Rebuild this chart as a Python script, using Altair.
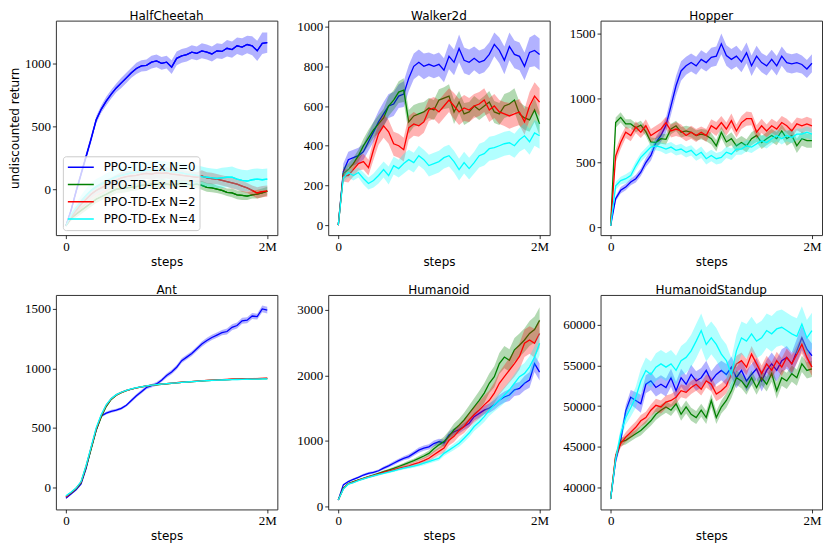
import altair as alt
import pandas as pd

STEPS_M = [round(i * 0.05, 2) for i in range(41)]
SERIES = ["PPO-TD-Ex N=0", "PPO-TD-Ex N=1", "PPO-TD-Ex N=2", "PPO-TD-Ex N=4"]
COLORS = ["#0000ff", "#008000", "#ff0000", "#00ffff"]
ENVS = ["HalfCheetah", "Walker2d", "Hopper", "Ant", "Humanoid", "HumanoidStandup"]

# ---------------- HalfCheetah ----------------
HC_N0 = [-290, -170, -20, 120, 260, 400, 550, 635, 700, 755, 805, 845, 885, 925, 960, 980, 985, 1010, 1020, 1000, 1010, 970, 1040, 1060, 1070, 1090, 1080, 1100, 1090, 1075, 1100, 1095, 1120, 1110, 1140, 1130, 1150, 1140, 1100, 1160, 1165]
HC_N1 = [-290, -230, -200, -170, -140, -110, -80, -60, -40, -20, 0, 5, 10, 15, 20, 30, 35, 40, 40, 45, 40, 35, 40, 45, 40, 35, 40, 30, 15, 10, 0, -10, -25, -30, -45, -50, -55, -45, -40, -30, -15]
HC_N2 = [-290, -220, -170, -120, -80, -40, -10, 10, 30, 50, 70, 90, 100, 105, 110, 120, 125, 120, 130, 125, 130, 120, 115, 110, 105, 100, 95, 105, 90, 85, 80, 70, 60, 50, 40, 25, 10, -10, -30, -20, -15]
HC_N4 = [-290, -210, -150, -100, -50, -10, 20, 40, 60, 80, 100, 110, 120, 130, 135, 140, 150, 150, 155, 150, 145, 140, 135, 130, 120, 115, 110, 100, 95, 90, 85, 90, 95, 95, 80, 70, 65, 75, 80, 75, 80]
HC_N0_SD = [10, 25, 30, 30, 30, 30, 30, 30, 35, 35, 35, 40, 40, 40, 45, 45, 45, 50, 50, 50, 50, 55, 55, 55, 55, 55, 55, 60, 60, 60, 60, 60, 65, 65, 65, 70, 70, 75, 80, 85, 80]
HC_N1_SD = [10, 20, 25, 30, 30, 30, 30, 30, 30, 35, 35, 35, 35, 30, 30, 30, 30, 35, 35, 35, 35, 35, 30, 30, 30, 30, 30, 35, 35, 35, 30, 30, 30, 35, 35, 35, 30, 30, 35, 35, 35]
HC_N2_SD = [10, 25, 35, 40, 40, 40, 40, 45, 45, 45, 45, 45, 45, 40, 40, 40, 45, 45, 45, 45, 45, 45, 45, 45, 40, 40, 40, 45, 45, 45, 40, 40, 40, 45, 45, 45, 40, 40, 45, 45, 45]
HC_N4_SD = [10, 30, 40, 50, 55, 60, 60, 60, 65, 65, 65, 65, 70, 70, 70, 70, 70, 75, 75, 75, 75, 75, 75, 80, 80, 80, 80, 80, 75, 75, 75, 80, 80, 85, 85, 85, 85, 85, 85, 85, 85]

# ---------------- Walker2d ----------------
W_N0 = [0, 270, 330, 340, 350, 370, 420, 470, 520, 560, 600, 610, 650, 660, 740, 800, 820, 800, 810, 800, 810, 780, 850, 820, 890, 830, 820, 840, 820, 830, 860, 910, 880, 830, 900, 860, 850, 800, 870, 880, 860]
W_N1 = [0, 260, 280, 310, 350, 400, 440, 480, 510, 540, 600, 630, 670, 680, 520, 550, 560, 570, 590, 580, 630, 640, 650, 570, 620, 560, 570, 600, 580, 600, 620, 570, 560, 600, 610, 630, 560, 540, 530, 580, 510]
W_N2 = [0, 250, 250, 280, 310, 320, 290, 380, 460, 500, 470, 410, 400, 380, 490, 510, 500, 520, 580, 590, 570, 600, 630, 600, 570, 590, 580, 600, 610, 630, 580, 600, 570, 560, 550, 560, 570, 520, 600, 650, 620]
W_N4 = [0, 240, 265, 250, 265, 235, 210, 225, 250, 280, 250, 300, 285, 310, 330, 315, 350, 330, 300, 310, 320, 340, 350, 320, 280, 315, 285, 315, 350, 360, 385, 390, 400, 410, 415, 400, 430, 450, 420, 465, 450]
W_N0_SD = [5, 40, 40, 40, 40, 40, 45, 50, 55, 60, 60, 60, 60, 65, 65, 65, 65, 65, 60, 60, 60, 60, 65, 65, 70, 65, 65, 60, 60, 60, 60, 60, 65, 70, 70, 70, 70, 70, 75, 80, 80]
W_N1_SD = [5, 30, 30, 30, 30, 35, 40, 40, 45, 45, 50, 50, 55, 60, 60, 55, 55, 50, 50, 50, 55, 55, 60, 60, 55, 55, 50, 50, 50, 50, 55, 55, 55, 60, 60, 60, 60, 60, 60, 60, 60]
W_N2_SD = [5, 30, 35, 35, 35, 40, 40, 50, 55, 60, 60, 60, 60, 60, 60, 60, 55, 55, 55, 55, 60, 60, 60, 65, 65, 65, 60, 60, 60, 60, 60, 60, 60, 60, 65, 65, 65, 65, 70, 70, 70]
W_N4_SD = [5, 25, 25, 25, 25, 30, 30, 35, 40, 40, 45, 45, 45, 50, 50, 50, 50, 50, 55, 55, 55, 55, 55, 55, 55, 55, 55, 55, 60, 60, 60, 60, 60, 60, 60, 60, 60, 65, 65, 65, 65]

# ---------------- Hopper ----------------
H_N0 = [10, 220, 285, 310, 350, 375, 425, 500, 555, 655, 710, 790, 940, 1095, 1210, 1250, 1275, 1250, 1300, 1275, 1315, 1325, 1420, 1330, 1300, 1325, 1280, 1350, 1250, 1325, 1275, 1250, 1300, 1250, 1325, 1275, 1265, 1275, 1260, 1225, 1270]
H_N1 = [10, 810, 850, 800, 800, 770, 790, 740, 660, 655, 685, 680, 760, 785, 735, 745, 735, 710, 720, 710, 685, 630, 735, 660, 685, 630, 655, 630, 685, 710, 655, 685, 710, 685, 745, 685, 710, 630, 685, 670, 670]
H_N2 = [10, 550, 655, 735, 710, 775, 735, 785, 710, 735, 760, 810, 745, 760, 745, 710, 735, 710, 735, 710, 785, 760, 810, 760, 825, 745, 810, 840, 840, 735, 785, 745, 785, 760, 810, 785, 745, 800, 785, 800, 785]
H_N4 = [10, 320, 360, 375, 400, 475, 540, 580, 620, 630, 620, 605, 620, 595, 605, 580, 595, 555, 580, 530, 555, 530, 540, 580, 565, 605, 605, 630, 620, 645, 670, 655, 685, 710, 685, 710, 695, 720, 720, 735, 720]
H_N0_SD = [5, 20, 25, 25, 25, 30, 30, 35, 40, 45, 50, 60, 70, 75, 75, 70, 70, 70, 70, 70, 75, 75, 80, 80, 80, 80, 80, 80, 80, 80, 75, 75, 75, 75, 75, 75, 75, 75, 70, 70, 70]
H_N1_SD = [5, 40, 40, 35, 35, 35, 35, 35, 35, 35, 40, 40, 40, 40, 40, 40, 40, 40, 40, 45, 45, 45, 45, 45, 50, 50, 50, 50, 50, 50, 50, 50, 50, 50, 50, 55, 55, 55, 55, 55, 55]
H_N2_SD = [5, 50, 50, 45, 45, 45, 45, 50, 50, 50, 50, 45, 50, 55, 50, 45, 50, 50, 45, 50, 50, 55, 50, 50, 55, 50, 50, 55, 50, 55, 55, 50, 55, 55, 50, 55, 55, 50, 55, 55, 55]
H_N4_SD = [5, 30, 30, 35, 35, 35, 35, 35, 35, 35, 35, 40, 40, 40, 40, 40, 40, 40, 45, 45, 45, 45, 45, 45, 45, 45, 45, 45, 45, 45, 45, 45, 45, 45, 45, 45, 45, 45, 45, 45, 45]

# ---------------- Ant ----------------
A_N0 = [-90, -55, -20, 30, 160, 330, 480, 600, 625, 640, 650, 665, 690, 730, 770, 805, 840, 855, 870, 900, 940, 970, 1010, 1065, 1095, 1125, 1165, 1205, 1235, 1260, 1280, 1300, 1310, 1345, 1360, 1400, 1405, 1440, 1435, 1500, 1490]
A_N1 = [-75, -45, -10, 40, 170, 320, 480, 590, 680, 740, 775, 797, 813, 826, 836, 845, 852, 858, 863, 867, 871, 875, 879, 883, 886, 889, 892, 895, 898, 900, 902, 904, 906, 908, 909, 910, 911, 912, 913, 914, 915]
A_N2 = [-80, -45, -8, 45, 180, 335, 490, 605, 690, 745, 778, 799, 815, 827, 837, 846, 853, 859, 864, 868, 872, 876, 880, 884, 887, 890, 893, 896, 899, 901, 903, 905, 907, 909, 911, 912, 913, 914, 915, 917, 918]
A_N4 = [-70, -40, -5, 50, 185, 340, 500, 610, 695, 748, 780, 800, 816, 828, 838, 846, 853, 859, 864, 868, 872, 876, 879, 883, 886, 889, 892, 895, 897, 899, 901, 903, 905, 906, 907, 908, 909, 910, 911, 912, 913]
A_N0_SD = [5, 8, 8, 10, 10, 12, 12, 12, 12, 12, 12, 12, 12, 15, 15, 15, 15, 15, 15, 15, 18, 18, 18, 20, 20, 20, 20, 22, 22, 22, 22, 22, 25, 25, 25, 25, 25, 25, 25, 28, 28]
A_N1_SD = [5, 6, 6, 8, 8, 10, 10, 10, 8, 8, 8, 6, 6, 6, 6, 6, 6, 6, 6, 6, 6, 6, 6, 6, 6, 6, 6, 6, 6, 6, 6, 6, 6, 6, 6, 6, 6, 6, 6, 6, 6]
A_N2_SD = [5, 6, 6, 8, 8, 10, 10, 10, 8, 8, 8, 7, 6, 6, 6, 6, 6, 6, 6, 6, 6, 6, 6, 6, 6, 6, 6, 6, 6, 6, 6, 6, 6, 6, 6, 6, 6, 6, 6, 6, 6]
A_N4_SD = [5, 6, 6, 8, 9, 10, 10, 10, 8, 8, 7, 6, 6, 6, 6, 6, 6, 6, 6, 6, 6, 6, 6, 6, 6, 6, 6, 6, 6, 6, 6, 6, 6, 6, 6, 6, 6, 6, 6, 6, 6]

# ---------------- Humanoid ----------------
U_N0 = [100, 330, 380, 415, 445, 480, 505, 520, 545, 585, 620, 660, 700, 735, 760, 810, 860, 890, 910, 960, 990, 970, 1090, 1140, 1170, 1220, 1270, 1370, 1420, 1470, 1500, 1550, 1620, 1670, 1700, 1780, 1800, 1880, 1930, 2180, 2050]
U_N1 = [100, 280, 350, 380, 405, 430, 455, 480, 505, 530, 555, 580, 610, 640, 670, 700, 735, 770, 810, 880, 940, 990, 1070, 1170, 1240, 1320, 1420, 1520, 1620, 1730, 1880, 1980, 2180, 2280, 2230, 2390, 2460, 2540, 2640, 2700, 2840]
U_N2 = [100, 270, 345, 370, 400, 425, 450, 470, 495, 520, 540, 560, 580, 600, 620, 645, 670, 700, 735, 790, 840, 890, 1010, 1070, 1160, 1220, 1320, 1400, 1470, 1550, 1620, 1730, 1880, 1980, 2080, 2180, 2290, 2490, 2540, 2490, 2640]
U_N4 = [100, 265, 340, 365, 395, 420, 445, 465, 485, 505, 525, 545, 565, 585, 600, 615, 635, 660, 685, 710, 735, 810, 860, 910, 965, 1040, 1120, 1220, 1290, 1370, 1470, 1550, 1620, 1700, 1780, 1880, 1980, 2030, 2130, 2280, 2490]
U_N0_SD = [5, 15, 15, 15, 15, 20, 20, 20, 20, 25, 25, 30, 30, 30, 35, 35, 40, 40, 40, 45, 45, 50, 50, 55, 55, 55, 60, 60, 65, 65, 70, 75, 80, 85, 90, 95, 100, 110, 120, 130, 130]
U_N1_SD = [5, 10, 10, 10, 10, 15, 15, 15, 15, 20, 20, 25, 25, 25, 30, 30, 35, 40, 45, 55, 65, 75, 85, 95, 100, 110, 120, 130, 140, 150, 150, 160, 160, 170, 170, 180, 180, 180, 190, 200, 200]
U_N2_SD = [5, 10, 10, 10, 10, 15, 15, 15, 15, 20, 20, 25, 25, 30, 30, 35, 40, 45, 50, 55, 60, 70, 80, 85, 90, 100, 110, 120, 130, 140, 150, 160, 170, 180, 190, 200, 200, 210, 210, 220, 220]
U_N4_SD = [5, 10, 10, 10, 10, 15, 15, 15, 15, 15, 20, 20, 20, 20, 25, 25, 25, 30, 30, 30, 35, 40, 45, 50, 55, 60, 65, 70, 75, 80, 90, 100, 110, 120, 130, 140, 150, 160, 160, 170, 180]

# ---------------- HumanoidStandup ----------------
S_N0 = [38600, 43300, 45800, 49400, 51100, 50700, 50300, 52700, 53100, 52300, 52700, 52300, 53500, 51900, 53500, 52700, 53900, 53100, 53500, 54400, 53100, 53900, 54400, 53900, 54800, 53500, 54400, 53100, 53900, 54600, 53100, 54400, 55200, 54400, 55600, 56000, 55200, 56800, 58400, 57000, 56200]
S_N1 = [38600, 43800, 45600, 45800, 46200, 46600, 47000, 47600, 48200, 49000, 49500, 49900, 49500, 50300, 49000, 49900, 49000, 48600, 49500, 48600, 50700, 48600, 49900, 50700, 51900, 53500, 53100, 52300, 53500, 52300, 53500, 52700, 54000, 51900, 53500, 53100, 54000, 53500, 55200, 54400, 54600]
S_N2 = [38600, 43900, 45400, 46200, 46800, 47400, 48200, 48600, 49500, 50100, 49900, 50500, 50700, 51100, 51900, 51700, 52300, 52700, 52100, 53100, 52700, 51500, 51900, 52500, 53900, 55200, 55600, 54800, 56400, 55200, 54000, 55200, 54400, 55600, 54800, 56000, 55200, 56400, 57600, 56000, 54800]
S_N4 = [38600, 43500, 46600, 48600, 49800, 51100, 53100, 54400, 53900, 54800, 55200, 54800, 55200, 54400, 55600, 56000, 56800, 58000, 59300, 57600, 58400, 57600, 56400, 55600, 53900, 56800, 58400, 58000, 58900, 58000, 58400, 59300, 58900, 59500, 59700, 59300, 58900, 58600, 60100, 58400, 59300]
S_N0_SD = [200, 500, 600, 700, 900, 1000, 1100, 1100, 1100, 1100, 1100, 1100, 1100, 1100, 1100, 1100, 1200, 1200, 1200, 1200, 1200, 1200, 1200, 1300, 1300, 1300, 1300, 1300, 1300, 1300, 1300, 1300, 1400, 1400, 1400, 1400, 1400, 1500, 1500, 1500, 1500]
S_N1_SD = [200, 400, 500, 500, 500, 500, 600, 600, 600, 700, 700, 700, 700, 700, 800, 800, 800, 800, 800, 800, 800, 800, 800, 900, 900, 900, 900, 900, 900, 900, 900, 900, 1000, 1000, 1000, 1000, 1000, 1000, 1000, 1000, 1000]
S_N2_SD = [200, 400, 500, 600, 700, 700, 700, 700, 700, 800, 800, 800, 800, 800, 800, 800, 800, 800, 800, 800, 900, 900, 900, 900, 1000, 1000, 1000, 1000, 1000, 1000, 1000, 1000, 1000, 1100, 1100, 1100, 1100, 1100, 1100, 1100, 1100]
S_N4_SD = [200, 500, 700, 900, 1100, 1300, 1500, 1600, 1600, 1700, 1700, 1700, 1700, 1800, 1800, 1900, 2000, 2100, 2100, 2100, 2000, 2000, 2000, 2000, 2000, 2000, 2000, 2100, 2100, 2100, 2100, 2100, 2200, 2200, 2200, 2200, 2200, 2200, 2200, 2200, 2200]

MEANS = {
    "HalfCheetah": [HC_N0, HC_N1, HC_N2, HC_N4],
    "Walker2d": [W_N0, W_N1, W_N2, W_N4],
    "Hopper": [H_N0, H_N1, H_N2, H_N4],
    "Ant": [A_N0, A_N1, A_N2, A_N4],
    "Humanoid": [U_N0, U_N1, U_N2, U_N4],
    "HumanoidStandup": [S_N0, S_N1, S_N2, S_N4],
}
SPREAD = {
    "HalfCheetah": [HC_N0_SD, HC_N1_SD, HC_N2_SD, HC_N4_SD],
    "Walker2d": [W_N0_SD, W_N1_SD, W_N2_SD, W_N4_SD],
    "Hopper": [H_N0_SD, H_N1_SD, H_N2_SD, H_N4_SD],
    "Ant": [A_N0_SD, A_N1_SD, A_N2_SD, A_N4_SD],
    "Humanoid": [U_N0_SD, U_N1_SD, U_N2_SD, U_N4_SD],
    "HumanoidStandup": [S_N0_SD, S_N1_SD, S_N2_SD, S_N4_SD],
}
Y_TICKS = {
    "HalfCheetah": [0, 500, 1000],
    "Walker2d": [0, 200, 400, 600, 800, 1000],
    "Hopper": [0, 500, 1000, 1500],
    "Ant": [0, 500, 1000, 1500],
    "Humanoid": [0, 1000, 2000, 3000],
    "HumanoidStandup": [40000, 45000, 50000, 55000, 60000],
}
Y_DOMAIN = {
    "HalfCheetah": [-365, 1340],
    "Walker2d": [-50, 1030],
    "Hopper": [-62, 1600],
    "Ant": [-184, 1617],
    "Humanoid": [-45, 3227],
    "HumanoidStandup": [37300, 63680],
}
X_TICKS = [0, 2]

rows = []
for env in ENVS:
    for s, mean, spr in zip(SERIES, MEANS[env], SPREAD[env]):
        assert len(mean) == len(STEPS_M) and len(spr) == len(STEPS_M), (env, s)
        for x, m, d in zip(STEPS_M, mean, spr):
            rows.append({"env": env, "series": s, "x": x, "y": m, "lo": m - d, "hi": m + d})
df = pd.DataFrame(rows)

W, H = 222, 215


def panel(i, env):
    sub = df[df["env"] == env]
    xs = alt.Scale(domain=[-0.1, 2.1], nice=False, zero=False)
    ys = alt.Scale(domain=Y_DOMAIN[env], nice=False, zero=False)
    xax = alt.Axis(values=X_TICKS, labelExpr="datum.value == 0 ? '0' : '2M'", title="steps")
    yax = alt.Axis(values=Y_TICKS[env], format="d",
                   title="undiscounted return" if i == 0 else "")
    layers = []
    if i == 0:
        layers.append(
            alt.Chart().mark_line(strokeWidth=1.3, clip=True).encode(
                x=alt.X("x:Q", scale=xs, axis=xax),
                y=alt.Y("y:Q", scale=ys, axis=yax),
                stroke=alt.Stroke(
                    "series:N",
                    scale=alt.Scale(domain=SERIES, range=COLORS),
                    legend=alt.Legend(
                        title=None, orient="none", legendX=7, legendY=136,
                        symbolType="stroke", symbolSize=676, symbolStrokeWidth=1.5,
                        clipHeight=14,
                        labelFont="DejaVu Sans", labelFontSize=11.8, labelColor="#000",
                        rowPadding=3.3, padding=4, labelOffset=9,
                        fillColor="rgba(255,255,255,0.8)", strokeColor="#cccccc",
                        cornerRadius=3, zindex=2,
                    ),
                ),
            )
        )
    for s, c in zip(SERIES, COLORS):
        base = alt.Chart().transform_filter(alt.datum.series == s)
        layers.append(
            base.mark_area(color=c, opacity=0.3, clip=True).encode(
                x=alt.X("x:Q", scale=xs, axis=xax),
                y=alt.Y("lo:Q", scale=ys, axis=yax),
                y2="hi:Q",
            )
        )
        layers.append(
            base.mark_line(color=c, strokeWidth=1.3, clip=True).encode(
                x=alt.X("x:Q", scale=xs, axis=xax),
                y=alt.Y("y:Q", scale=ys, axis=yax),
            )
        )
    return alt.layer(*layers, data=sub).properties(width=W, height=H, title=env)


panels = [panel(i, env) for i, env in enumerate(ENVS)]

chart = (
    alt.concat(*panels, columns=3, spacing={"row": 60, "column": 51}, bounds="flush")
    .resolve_legend(stroke="independent")
    .resolve_scale(stroke="independent")
    .properties(padding={"left": 0, "top": 0, "right": 0, "bottom": 0})
    .configure_view(stroke="#333333", strokeWidth=1)
    .configure_axis(
        grid=False, domain=False, tickColor="#000", tickSize=3.5, tickWidth=0.8,
        labelFont="Liberation Serif", labelFontSize=13, labelColor="#000", labelPadding=2,
        titleFont="DejaVu Sans", titleFontSize=12, titleFontWeight="normal", titleColor="#000",
    )
    .configure_axisX(titlePadding=3)
    .configure_axisY(titlePadding=3)
    .configure_title(font="DejaVu Sans", fontSize=12, fontWeight="normal", color="#000",
                     offset=-2, anchor="middle")
)

chart.save("out.html", embed_options={"renderer": "svg", "actions": False})
